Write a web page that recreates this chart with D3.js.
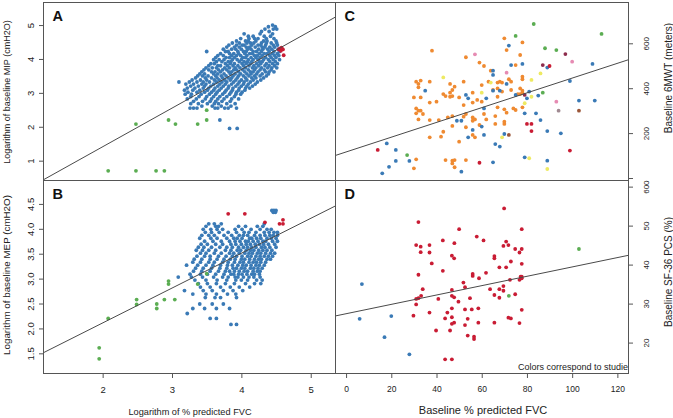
<!DOCTYPE html>
<html>
<head>
<meta charset="utf-8">
<script src="https://cdn.jsdelivr.net/npm/d3@7"></script>
<style>
  body { margin: 0; background: #fff; }
  svg { display: block; font-family: "Liberation Sans", Arial, sans-serif; }
</style>
</head>
<body>
<svg id="chart" width="673" height="418"></svg>
<script>

/// DATA ////////////////////////////////////////////////////////////////////////////////

// panel A: log % predicted FVC vs log baseline MIP, blue study read as rows [y, [x...]]
var aBlueRows = [
  [5.00, [4.45]],
  [4.95, [4.39, 4.49]],
  [4.88, [4.34, 4.46, 4.51]],
  [4.81, [4.29, 4.40]],
  [4.74, [4.04, 4.27, 4.45]],
  [4.67, [4.10, 4.17, 4.33, 4.42]],
  [4.60, [3.99, 4.11, 4.19, 4.24, 4.36, 4.47]],
  [4.53, [3.93, 4.06, 4.10, 4.21, 4.32, 4.37, 4.50]],
  [4.47, [3.87, 3.97, 4.08, 4.13, 4.18, 4.29, 4.36, 4.43, 4.51]],
  [4.41, [3.82, 3.93, 4.01, 4.04, 4.15, 4.24, 4.28, 4.35, 4.46, 4.52]],
  [4.35, [3.79, 3.90, 3.97, 4.07, 4.12, 4.20, 4.30, 4.34, 4.41, 4.48]],
  [4.29, [3.74, 3.86, 3.92, 4.00, 4.09, 4.14, 4.25, 4.31, 4.38, 4.44, 4.53]],
  [4.22, [3.50, 3.77, 3.81, 3.95, 4.03, 4.07, 4.17, 4.22, 4.29, 4.40, 4.47, 4.55]],
  [4.16, [3.70, 3.83, 3.89, 3.96, 4.05, 4.12, 4.16, 4.26, 4.33, 4.37, 4.45, 4.52]],
  [4.10, [3.66, 3.74, 3.86, 3.93, 3.99, 4.08, 4.19, 4.23, 4.30, 4.41, 4.48, 4.54]],
  [4.04, [3.63, 3.78, 3.83, 3.90, 4.02, 4.06, 4.14, 4.21, 4.27, 4.35, 4.43, 4.50]],
  [3.98, [3.60, 3.68, 3.75, 3.87, 3.94, 4.00, 4.10, 4.17, 4.24, 4.32, 4.39, 4.46, 4.55]],
  [3.92, [3.64, 3.72, 3.81, 3.85, 3.97, 4.04, 4.09, 4.15, 4.26, 4.30, 4.41, 4.49]],
  [3.86, [3.56, 3.61, 3.77, 3.84, 3.90, 4.01, 4.07, 4.13, 4.22, 4.28, 4.36, 4.45, 4.52]],
  [3.80, [3.53, 3.66, 3.70, 3.80, 3.88, 3.95, 4.03, 4.11, 4.18, 4.25, 4.34, 4.40, 4.48]],
  [3.74, [3.49, 3.58, 3.64, 3.76, 3.83, 3.91, 3.98, 4.06, 4.16, 4.21, 4.29, 4.38, 4.44, 4.51]],
  [3.68, [3.46, 3.53, 3.67, 3.73, 3.79, 3.89, 3.93, 4.02, 4.10, 4.19, 4.27, 4.33, 4.43]],
  [3.62, [3.43, 3.57, 3.62, 3.70, 3.82, 3.86, 3.96, 4.05, 4.13, 4.17, 4.24, 4.35, 4.40, 4.47]],
  [3.56, [3.40, 3.47, 3.60, 3.66, 3.75, 3.84, 3.91, 3.99, 4.08, 4.14, 4.22, 4.30, 4.39]],
  [3.50, [3.37, 3.44, 3.52, 3.63, 3.71, 3.78, 3.88, 3.96, 4.03, 4.11, 4.19, 4.27, 4.36]],
  [3.44, [3.34, 3.48, 3.57, 3.65, 3.73, 3.81, 3.86, 3.94, 4.06, 4.15, 4.21, 4.32]],
  [3.38, [3.29, 3.41, 3.50, 3.61, 3.68, 3.76, 3.84, 3.92, 4.00, 4.08, 4.17, 4.28]],
  [3.32, [3.10, 3.25, 3.36, 3.45, 3.54, 3.64, 3.72, 3.79, 3.89, 3.97, 4.04, 4.13, 4.23]],
  [3.26, [3.20, 3.31, 3.43, 3.49, 3.60, 3.69, 3.77, 3.86, 3.95, 4.03, 4.10, 4.20]],
  [3.20, [3.27, 3.38, 3.47, 3.56, 3.66, 3.74, 3.82, 3.92, 4.00, 4.08, 4.16]],
  [3.14, [3.22, 3.33, 3.45, 3.53, 3.62, 3.71, 3.81, 3.88, 3.97, 4.06, 4.12]],
  [3.08, [3.18, 3.30, 3.40, 3.51, 3.60, 3.68, 3.78, 3.87, 3.96, 4.05]],
  [3.02, [3.23, 3.36, 3.47, 3.57, 3.65, 3.76, 3.85, 3.93, 4.01]],
  [2.96, [3.19, 3.28, 3.42, 3.54, 3.63, 3.73, 3.83, 3.92, 3.99]],
  [2.89, [3.27, 3.39, 3.50, 3.60, 3.69, 3.79, 3.90]],
  [2.82, [3.22, 3.35, 3.48, 3.57, 3.66, 3.75, 3.86, 3.96]],
  [2.75, [3.31, 3.44, 3.55, 3.63, 3.72, 3.84]],
  [2.68, [3.27, 3.38, 3.51, 3.61, 3.67, 3.79, 3.91]],
  [2.61, [3.43, 3.58, 3.71, 3.85]],
  [2.55, [3.26, 3.31, 3.36, 3.62, 3.66, 3.76, 3.81, 3.93]],
  [2.20, [3.69]],
  [1.95, [3.83, 3.94]]
];
var aGreen = [[2.08, 0.70], [2.48, 0.70], [2.77, 0.70], [2.89, 0.70], [2.48, 2.08], [2.95, 2.20],
              [3.05, 2.08], [3.37, 2.08], [3.50, 2.20], [3.50, 2.49]];
var aRed = [[4.54, 4.28], [4.56, 4.31], [4.58, 4.33], [4.60, 4.28], [4.57, 4.24], [4.61, 4.11]];

// panel B: log % predicted FVC vs log baseline MEP
var bBlueRows = [
  [4.37, [4.44, 4.47, 4.50]],
  [4.33, [4.46, 4.49]],
  [4.10, [3.53, 3.61, 3.71, 4.33]],
  [4.05, [3.49, 3.63, 3.67, 3.96, 4.06, 4.23, 4.31]],
  [3.99, [3.45, 3.56, 3.65, 3.73, 3.91, 4.01, 4.14, 4.27, 4.37, 4.43]],
  [3.93, [3.48, 3.57, 3.68, 3.81, 3.93, 4.04, 4.11, 4.21, 4.33, 4.40, 4.47, 4.52]],
  [3.87, [3.43, 3.53, 3.61, 3.75, 3.86, 3.97, 4.03, 4.09, 4.19, 4.27, 4.34, 4.41, 4.46, 4.52]],
  [3.81, [3.40, 3.56, 3.65, 3.79, 3.89, 3.94, 4.01, 4.12, 4.15, 4.22, 4.28, 4.37, 4.43, 4.50]],
  [3.75, [3.47, 3.59, 3.71, 3.83, 3.91, 3.98, 4.06, 4.10, 4.17, 4.24, 4.31, 4.35, 4.45, 4.52]],
  [3.69, [3.42, 3.51, 3.63, 3.73, 3.85, 3.92, 4.00, 4.07, 4.13, 4.20, 4.26, 4.32, 4.39, 4.48]],
  [3.63, [3.38, 3.46, 3.57, 3.69, 3.79, 3.87, 3.96, 4.03, 4.09, 4.15, 4.21, 4.29, 4.34, 4.41, 4.50]],
  [3.57, [3.35, 3.44, 3.53, 3.63, 3.77, 3.85, 3.94, 3.99, 4.07, 4.13, 4.18, 4.25, 4.31, 4.37, 4.44]],
  [3.51, [3.41, 3.49, 3.61, 3.71, 3.83, 3.89, 3.97, 4.05, 4.11, 4.16, 4.23, 4.28, 4.35, 4.42, 4.48]],
  [3.45, [3.36, 3.47, 3.55, 3.67, 3.78, 3.87, 3.93, 4.01, 4.09, 4.14, 4.21, 4.27, 4.33, 4.39, 4.45]],
  [3.39, [3.32, 3.43, 3.55, 3.65, 3.75, 3.84, 3.91, 4.00, 4.05, 4.12, 4.19, 4.25, 4.29, 4.37, 4.42]],
  [3.33, [3.30, 3.41, 3.53, 3.61, 3.73, 3.81, 3.90, 3.98, 4.03, 4.11, 4.17, 4.22, 4.28, 4.35]],
  [3.27, [3.21, 3.37, 3.49, 3.59, 3.70, 3.80, 3.87, 3.95, 4.02, 4.07, 4.14, 4.21, 4.26, 4.33]],
  [3.21, [3.34, 3.45, 3.57, 3.69, 3.79, 3.88, 3.93, 4.00, 4.05, 4.13, 4.18, 4.24, 4.30]],
  [3.15, [3.31, 3.43, 3.55, 3.67, 3.77, 3.83, 3.90, 3.97, 4.04, 4.09, 4.17, 4.23, 4.27]],
  [3.09, [3.26, 3.41, 3.51, 3.63, 3.75, 3.85, 3.89, 3.96, 4.01, 4.08, 4.15, 4.19, 4.26]],
  [3.03, [3.09, 3.28, 3.44, 3.60, 3.73, 3.81, 3.91, 3.95, 4.03, 4.11, 4.18, 4.27]],
  [2.97, [3.33, 3.49, 3.65, 3.79, 3.92, 4.00, 4.09, 4.22, 4.30]],
  [2.90, [3.38, 3.51, 3.64, 3.77, 3.90, 4.06, 4.19, 4.28]],
  [2.83, [3.41, 3.55, 3.70, 3.84, 3.97, 4.12]],
  [2.76, [3.18, 3.45, 3.58, 3.74, 3.88, 4.02]],
  [2.69, [3.30, 3.49, 3.64, 3.80, 3.92]],
  [2.62, [3.48, 3.62, 3.70, 3.93]],
  [2.49, [3.40, 3.58, 3.74]],
  [2.40, [3.30, 3.47, 3.64, 3.83]],
  [2.30, [3.22]],
  [2.20, [3.55, 3.64]],
  [2.08, [3.85, 3.93]]
];
var bGreen = [[1.95, 1.61], [1.95, 1.39], [2.08, 2.20], [2.49, 2.58], [2.49, 2.48], [2.78, 2.49],
              [2.78, 2.40], [2.89, 2.58], [2.95, 2.95], [2.95, 2.89], [3.04, 2.58], [3.37, 2.89], [3.50, 3.10]];
var bRed = [[3.81, 4.30], [4.05, 4.30], [4.34, 4.13], [4.55, 4.10], [4.60, 4.18], [4.60, 4.10]];

// panel C: baseline % predicted FVC vs baseline 6MWT (m), one array per study colour
var cOrange = [[38,567],[53,538],[59,514],[61,499],[70,622],[78,604],[71,570],[77,548],[64,478],[75,503],
  [78,451],[78,440],[72,440],[73,429],[68,429],[69,425],[60,414],[31,429],[32,419],[33,434],[37,429],
  [52,429],[46,419],[48,407],[47,392],[46,380],[47,365],[46,362],[43,374],[44,365],[56,380],[30,359],
  [33,359],[37,336],[40,340],[50,359],[52,325],[56,336],[31,310],[32,300],[33,300],[31,288],[34,285],
  [32,261],[45,270],[47,276],[41,258],[53,285],[56,270],[57,261],[56,255],[59,236],[47,232],[43,206],
  [53,226],[37,181],[42,184],[50,162],[56,192],[57,181],[31,83],[30,43],[44,80],[47,77],[48,80],[47,65],
  [53,80],[48,48],[77,399],[78,389],[78,380],[77,374],[73,392],[67,362],[69,385],[78,315],[67,315],
  [70,306],[71,291],[61,285],[66,276],[62,261],[70,251],[70,241],[66,241],[76,374],[75,303],[74,310],
  [37,258],[52,273],[58,348],[60,340],[63,429],[67,425],[67,399],[65,392],[32,404]];
var cBlue = [[72,590],[89,492],[73,503],[78,508],[109,508],[65,478],[65,459],[71,419],[99,432],[81,385],
  [85,367],[80,355],[65,389],[68,389],[75,370],[62,355],[103,345],[110,345],[79,288],[84,288],[86,258],
  [60,229],[89,209],[95,199],[61,192],[70,196],[66,151],[68,140],[79,92],[65,70],[89,77],[35,389],
  [53,370],[54,355],[61,310],[49,255],[51,255],[56,214],[54,181],[18,154],[22,125],[22,76],[19,50],
  [16,21],[28,76],[51,28]];
var cRed = [[90,499],[80,241],[82,241],[82,209],[99,122],[14,125],[59,68]];
var cMaroon = [[79,370],[97,552],[87,503]];
var cGreen = [[83,686],[113,642],[75,633],[88,578],[93,570],[87,380],[27,102]];
var cYellow = [[86,466],[82,437],[82,362],[79,333],[69,181],[81,88],[89,40],[43,448],[60,380],[64,425]];
var cPink = [[57,551],[100,518],[71,469],[93,340]];
var cBrown = [[103,300],[72,192]];
var cGray = [[94,300]];

// panel D: baseline % predicted FVC vs baseline SF-36 PCS (%)
var dRed = [[32,50.9],[31,45],[33,44.6],[33,43.2],[36.9,45],[36.9,43.1],[37.9,40.3],[32,37.4],[33.9,33.7],
  [33.2,32],[32,31.4],[31,31.2],[31,29.8],[29.8,26.9],[36.9,27.7],[42.8,46.2],[42.8,38.4],[40.8,31.2],
  [39.8,23.1],[43.8,26.2],[44.8,27.7],[43.8,15.7],[46.8,15.7],[46,23.1],[46.8,42.3],[47.8,41.6],
  [47.9,45.5],[50,49.1],[46.8,33.5],[46.8,32],[47.8,31.6],[46.8,28.8],[46.8,26.5],[47.8,25.1],
  [46.8,24.8],[49.7,30.5],[51.9,35.4],[52.6,34.2],[52.6,28.5],[52.6,24.5],[53.8,26.1],[53.8,21.8],
  [54.8,31.4],[55.6,28.5],[56,37.1],[56,37.6],[56.6,21.5],[56.6,20.9],[57.8,47.2],[58.5,28.8],
  [58.5,25.1],[58.8,36.5],[60.8,46.2],[61.9,37.9],[63.7,33.7],[65.6,42.2],[65.6,41.6],[65.6,32.2],
  [65.6,25.1],[67.8,39.3],[67.8,33.7],[67.8,31.5],[69.6,44.8],[69.6,34.5],[69.6,33.3],[69.9,54.4],
  [70.8,45.9],[70.8,39.3],[71.8,45],[71.8,26.4],[72.9,26.2],[72.9,40.8],[72.5,36.1],[74.8,44],
  [74.8,32.4],[76.7,43.1],[76.7,36.1],[76.7,25],[77.2,36.9],[77.7,49.1],[77.7,44],[77.7,40.2],
  [77.7,36.9],[77.7,36.5],[77.7,28.4]];
var dBlue = [[7,35],[6,26.1],[20,26.8],[17,21.4],[28,17]];
var dGreen = [[103,44],[72,32]];

// fitted lines [intercept, slope]
var fitA = [-0.87, 1.14];
var fitB = [0.71, 0.70];
var fitC = [116, 3.29];
var fitD = [27.4, 0.120];

// tick values and labels
var logFvcTicks = [2, 3, 4, 5];
var fvcTicks = [0, 20, 40, 60, 80, 100, 120];
var mipTicks = [1, 2, 3, 4, 5];
var mepTicks = [1.5, 2.0, 2.5, 3.0, 3.5, 4.0, 4.5];
var walkTicks = [0, 200, 400, 600];
var walkLabels = ['', '200', '400', '600'];
var pcsTicks = [20, 30, 40, 50, 60];
var pcsLabels = ['20', '30', '40', '50', '600'];

/// SETUP ///////////////////////////////////////////////////////////////////////////////

var LEFT = 43, MID = 335, RIGHT = 628, TOP = 2, HMID = 180, BOTTOM = 373;
var LINE_COL = '#555';
var TEXT_COL = '#222';
var BLUE = '#3a7ab6', RED = '#c91c34', GREEN = '#5bad52';

var svg = d3.select('#chart');

var xLog = d3.scaleLinear().domain([1.14, 5.35]).range([LEFT, MID]);
var xFvc = d3.scaleLinear().domain([-4.9, 124.7]).range([MID, RIGHT]);
var yA = d3.scaleLinear().domain([0.43, 5.68]).range([HMID, TOP]);
var yB = d3.scaleLinear().domain([1.105, 4.98]).range([BOTTOM, HMID]);
var yC = d3.scaleLinear().domain([-8.9, 784]).range([HMID, TOP]);
var yD = d3.scaleLinear().domain([12.2, 61.7]).range([BOTTOM, HMID]);

function flatRows(rows) {
    return rows.flatMap(function (r) { return r[1].map(function (x) { return [x, r[0]]; }); });
}

/////////////////////////////////////////////////////////////////////////////////////////

function drawPanel(id, x, y, layers, fit, letter) {
    var x0 = x.range()[0], x1 = x.range()[1];
    var y0 = y.range()[1], y1 = y.range()[0];

    svg.append('clipPath').attr('id', 'clip-' + id)
        .append('rect')
            .attr('x', x0).attr('y', y0)
            .attr('width', x1 - x0).attr('height', y1 - y0);

    var g = svg.append('g').attr('clip-path', 'url(#clip-' + id + ')');

    layers.forEach(function (layer) {
        g.append('g').selectAll('circle')
            .data(layer.data)
            .enter()
            .append('circle')
                .attr('cx', function (d) { return x(d[0]); })
                .attr('cy', function (d) { return y(d[1]); })
                .attr('r', 1.9)
                .attr('fill', layer.color);
    });

    // regression line
    var xd = x.domain();
    g.append('line')
        .attr('x1', x(xd[0])).attr('y1', y(fit[0] + fit[1] * xd[0]))
        .attr('x2', x(xd[1])).attr('y2', y(fit[0] + fit[1] * xd[1]))
        .attr('stroke', '#4a4a4a')
        .attr('stroke-width', 1);

    // frame
    svg.append('rect')
        .attr('x', x0 + 0.5).attr('y', y0 + 0.5)
        .attr('width', x1 - x0).attr('height', y1 - y0)
        .attr('fill', 'none')
        .attr('stroke', LINE_COL)
        .attr('stroke-width', 1);

    svg.append('text')
        .attr('x', x0 + 9.5)
        .attr('y', y0 + 19)
        .attr('fill', '#111')
        .style('font-size', '14.5px')
        .style('font-weight', 'bold')
        .text(letter);

    return g;
}

function styleAxis(sel, size) {
    sel.attr('font-family', null).attr('font-size', null);
    sel.select('.domain').remove();
    sel.selectAll('.tick line').attr('stroke', LINE_COL);
    sel.selectAll('.tick text').attr('fill', TEXT_COL).style('font-size', size + 'px');
}

function rotateTicks(sel, offset) {
    sel.selectAll('.tick text')
        .attr('x', null).attr('y', null)
        .attr('dy', '0.35em')
        .attr('transform', 'translate(' + offset + ',0) rotate(-90)')
        .style('text-anchor', 'middle');
}

function vTitle(x, y, size, label) {
    svg.append('text')
        .attr('transform', 'translate(' + x + ',' + y + ') rotate(-90)')
        .attr('dy', '0.35em')
        .attr('fill', TEXT_COL)
        .style('text-anchor', 'middle')
        .style('font-size', size + 'px')
        .text(label);
}

/// PANELS //////////////////////////////////////////////////////////////////////////////

drawPanel('a', xLog, yA, [
    { data: flatRows(aBlueRows), color: BLUE },
    { data: aGreen, color: GREEN },
    { data: aRed, color: RED }
], fitA, 'A');

drawPanel('b', xLog, yB, [
    { data: flatRows(bBlueRows), color: BLUE },
    { data: bGreen, color: GREEN },
    { data: bRed, color: RED }
], fitB, 'B');

drawPanel('c', xFvc, yC, [
    { data: cOrange, color: '#ef8a31' },
    { data: cBlue, color: BLUE },
    { data: cYellow, color: '#eeea62' },
    { data: cPink, color: '#e68bb3' },
    { data: cGreen, color: GREEN },
    { data: cRed, color: RED },
    { data: cMaroon, color: '#8d2c4c' },
    { data: cBrown, color: '#9b5638' },
    { data: cGray, color: '#a08a92' }
], fitC, 'C');

var gD = drawPanel('d', xFvc, yD, [
    { data: dRed, color: RED },
    { data: dBlue, color: BLUE },
    { data: dGreen, color: GREEN }
], fitD, 'D');

gD.append('text')
    .attr('x', 518)
    .attr('y', 369.5)
    .attr('fill', TEXT_COL)
    .style('font-size', '9px')
    .text('Colors correspond to studies');

/// AXES ////////////////////////////////////////////////////////////////////////////////

svg.append('g')
    .attr('transform', 'translate(' + LEFT + ',0)')
    .call(d3.axisLeft(yA).tickValues(mipTicks).tickSize(4).tickFormat(d3.format('d')))
    .call(styleAxis, 9.5)
    .call(rotateTicks, -12.5);

svg.append('g')
    .attr('transform', 'translate(' + LEFT + ',0)')
    .call(d3.axisLeft(yB).tickValues(mepTicks).tickSize(4).tickFormat(d3.format('.1f')))
    .call(styleAxis, 9.5)
    .call(rotateTicks, -12.5);

svg.append('g')
    .attr('transform', 'translate(0,' + BOTTOM + ')')
    .call(d3.axisBottom(xLog).tickValues(logFvcTicks).tickSize(5).tickPadding(8).tickFormat(d3.format('d')))
    .call(styleAxis, 9.5);

svg.append('g')
    .attr('transform', 'translate(0,' + BOTTOM + ')')
    .call(d3.axisBottom(xFvc).tickValues(fvcTicks).tickSize(5).tickPadding(8).tickFormat(d3.format('d')))
    .call(styleAxis, 8.5);

svg.append('g')
    .attr('transform', 'translate(' + RIGHT + ',0)')
    .call(d3.axisRight(yC).tickValues(walkTicks).tickSize(5)
        .tickFormat(function (d, i) { return walkLabels[i]; }))
    .call(styleAxis, 8)
    .call(rotateTicks, 18.5);

svg.append('g')
    .attr('transform', 'translate(' + RIGHT + ',0)')
    .call(d3.axisRight(yD).tickValues(pcsTicks).tickSize(5)
        .tickFormat(function (d, i) { return pcsLabels[i]; }))
    .call(styleAxis, 8)
    .call(rotateTicks, 18.5);

// axis titles
vTitle(7, 92, 9, 'Logarithm of baseline MIP (cmH2O)');
vTitle(7, 275, 9.8, 'Logarithm of baseline MEP (cmH2O)');
vTitle(668, 78, 10, 'Baseline 6MWT (meters)');
vTitle(668, 272, 10, 'Baseline SF-36 PCS (%)');

svg.append('text')
    .attr('x', 190).attr('y', 414.5)
    .attr('fill', TEXT_COL)
    .style('text-anchor', 'middle')
    .style('font-size', '9.2px')
    .text('Logarithm of % predicted FVC');

svg.append('text')
    .attr('x', 483).attr('y', 413.5)
    .attr('fill', TEXT_COL)
    .style('text-anchor', 'middle')
    .style('font-size', '11px')
    .text('Baseline % predicted FVC');

</script>
</body>
</html>
